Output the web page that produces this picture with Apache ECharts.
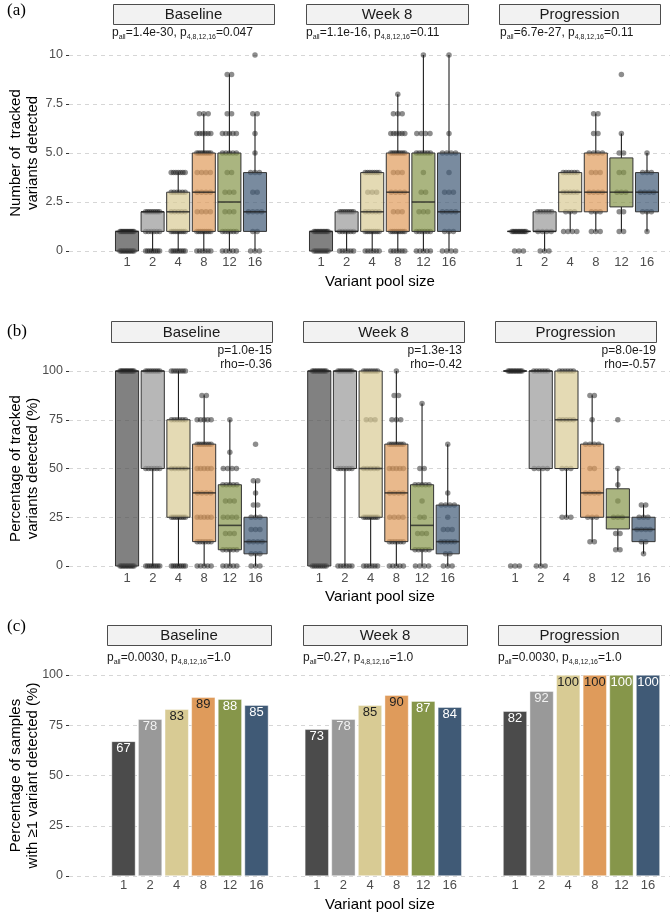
<!DOCTYPE html>
<html><head><meta charset="utf-8">
<script src="https://cdn.jsdelivr.net/npm/echarts/dist/echarts.min.js"></script>
<style>html,body{margin:0;padding:0;background:#fff}#c{width:670px;height:915px}</style>
</head><body><div id="c"></div>
<script>
// ---------------- DATA ----------------
const poolSizes = ['1', '2', '4', '8', '12', '16'];
const facetNames = ['Baseline', 'Week 8', 'Progression'];
const countTickLabels = ['0', '2.5', '5.0', '7.5', '10'];
const pctTickLabels = ['0', '25', '50', '75', '100'];

// (a) Number of tracked variants detected: box stats [min, q1, median, q3, max]
const countBoxBaseline    = [[0,0,1,1,1],[0,1,2,2,2],[0,1,2,3,4],[0,1,3,5,7],[0,1,2.5,5,9],[0,1,2,4,7]];
const countBoxWeek8       = [[0,0,1,1,1],[0,1,1,2,2],[0,1,2,4,4],[0,1,3,5,8],[0,1,2.5,5,10],[0,1,2,5,10]];
const countBoxProgression = [[1,1,1,1,1],[0,1,1,2,2],[1,2,3,4,4],[1,2,3,5,7],[1,2.25,3,4.75,6],[1,2,3,4,5]];
// (a) observed points per pool size: [value, number of samples]
const countPtsBaseline = [
  [[0,10],[1,12]], [[0,8],[1,6],[2,8]], [[0,8],[1,8],[2,5],[3,6],[4,7]],
  [[0,6],[1,8],[2,4],[3,4],[4,4],[5,8],[6,6],[7,3]],
  [[0,5],[1,6],[2,3],[3,3],[4,2],[5,5],[6,5],[7,2],[9,2]],
  [[0,3],[1,2],[2,4],[3,2],[4,3],[5,1],[6,1],[7,2],[10,1]]];
const countPtsWeek8 = [
  [[0,8],[1,10]], [[0,6],[1,6],[2,8]], [[0,6],[1,8],[2,5],[3,3],[4,7]],
  [[0,6],[1,8],[2,3],[3,4],[4,3],[5,8],[6,6],[7,3],[8,1]],
  [[0,5],[1,6],[2,3],[3,2],[4,1],[5,6],[6,4],[10,1]],
  [[0,4],[1,3],[2,4],[3,3],[4,1],[5,4],[6,1],[10,1]]];
const countPtsProgression = [
  [[0,3],[1,10]], [[0,3],[1,4],[2,6]], [[1,4],[2,3],[3,5],[4,6]],
  [[1,3],[2,3],[3,4],[4,3],[5,4],[6,2],[7,2]],
  [[1,2],[2,2],[3,3],[4,2],[5,2],[6,1],[9,1]],
  [[1,1],[2,3],[3,4],[4,3],[5,1]]];

// (b) Percentage of tracked variants detected: box stats
const pctBoxBaseline    = [[0,0,100,100,100],[0,50,100,100,100],[0,25,50,75,100],[0,12.5,37.5,62.5,87.5],[0,8.33,20.83,41.67,75],[0,6.25,12.5,25,43.75]];
const pctBoxWeek8       = [[0,0,100,100,100],[0,50,100,100,100],[0,25,50,100,100],[0,12.5,37.5,62.5,100],[0,8.33,20.83,41.67,83.33],[0,6.25,12.5,31.25,62.5]];
const pctBoxProgression = [[100,100,100,100,100],[0,50,100,100,100],[25,50,75,100,100],[12.5,25,37.5,62.5,87.5],[8.33,19,25,39.6,50],[6.25,12.5,18.75,25,31.25]];
const pctPtsBaseline = [
  [[0,10],[100,12]], [[0,8],[50,6],[100,8]], [[0,8],[25,8],[50,5],[75,6],[100,7]],
  [[0,5],[12.5,6],[25,5],[37.5,4],[50,5],[62.5,7],[75,5],[87.5,2]],
  [[0,5],[8.33,5],[16.67,3],[25,4],[33.33,3],[41.67,5],[50,4],[58.33,1],[75,1]],
  [[0,3],[6.25,3],[12.5,4],[18.75,3],[25,3],[31.25,2],[37.5,1],[43.75,2],[62.5,1]]];
const pctPtsWeek8 = [
  [[0,8],[100,10]], [[0,6],[50,6],[100,8]], [[0,6],[25,8],[50,5],[75,3],[100,7]],
  [[0,5],[12.5,6],[25,4],[37.5,4],[50,5],[62.5,7],[75,3],[87.5,2],[100,1]],
  [[0,4],[8.33,5],[16.67,3],[25,2],[33.33,1],[41.67,5],[50,2],[83.33,1]],
  [[0,3],[6.25,2],[12.5,5],[18.75,3],[25,1],[31.25,4],[37.5,1],[62.5,1]]];
const pctPtsProgression = [
  [[0,3],[100,10]], [[0,3],[50,4],[100,6]], [[25,3],[50,3],[75,5],[100,6]],
  [[12.5,2],[25,3],[37.5,4],[50,2],[62.5,4],[75,1],[87.5,2]],
  [[8.33,2],[16.67,2],[25,3],[33.33,1],[41.67,1],[50,1],[75,1]],
  [[6.25,1],[12.5,2],[18.75,4],[25,3],[31.25,2]]];

// (c) Percentage of samples with >=1 variant detected
const detectedBaseline    = [67, 78, 83, 89, 88, 85];
const detectedWeek8       = [73, 78, 85, 90, 87, 84];
const detectedProgression = [82, 92, 100, 100, 100, 100];

// statistics text
const pTextA = [['1.4e-30', '0.047'], ['1.1e-16', '0.11'], ['6.7e-27', '0.11']];
const pTextB = [['1.0e-15', '-0.36'], ['1.3e-13', '-0.42'], ['8.0e-19', '-0.57']];
const pTextC = [['0.0030', '1.0'], ['0.27', '1.0'], ['0.0030', '1.0']];

// ---------------- STYLE / LAYOUT ----------------
const FONT = '"Liberation Sans", Arial, Helvetica, sans-serif';
const SERIF = '"Liberation Serif", "Times New Roman", serif';
const poolColors = ['#4b4b4b', '#999999', '#d8cb94', '#df9b5b', '#86964a', '#405a76'];
const barLabelColors = ['#ffffff', '#f2f2f2', '#222222', '#222222', '#ffffff', '#ffffff'];
function rgba(hex, a) {
  const n = parseInt(hex.slice(1), 16);
  return 'rgba(' + (n >> 16) + ',' + ((n >> 8) & 255) + ',' + (n & 255) + ',' + a + ')';
}

const rows = [
  { top: 55, bottom: 251, max: 10, interval: 2.5, ticks: countTickLabels,
    lefts: [114.2, 308.2, 506.2], width: 153.6, labelMargin: 5,
    boxes: [countBoxBaseline, countBoxWeek8, countBoxProgression],
    pts: [countPtsBaseline, countPtsWeek8, countPtsProgression] },
  { top: 371, bottom: 566, max: 100, interval: 25, ticks: pctTickLabels,
    lefts: [114.2, 306.4, 502.2], width: 154.2, labelMargin: 6,
    boxes: [pctBoxBaseline, pctBoxWeek8, pctBoxProgression],
    pts: [pctPtsBaseline, pctPtsWeek8, pctPtsProgression] },
  { top: 675, bottom: 876, max: 100, interval: 25, ticks: pctTickLabels,
    lefts: [110.2, 303.5, 501.7], width: 159.6, labelMargin: 3,
    bars: [detectedBaseline, detectedWeek8, detectedProgression] }
];

function spreadOffsets(n) {
  if (n <= 1) return [0];
  const w = Math.min(7, (n - 1) * 2.2);
  const out = [];
  for (let i = 0; i < n; i++) out.push(-w + 2 * w * i / (n - 1));
  return out;
}

function renderBox(params, api) {
  const ci = api.value(0);
  const pMed = api.coord([ci, api.value(3)]);
  const x = pMed[0];
  const bw = api.size([1, 0])[0] * 0.9;
  const yMin = api.coord([ci, api.value(1)])[1];
  const yQ1 = api.coord([ci, api.value(2)])[1];
  const yQ3 = api.coord([ci, api.value(4)])[1];
  const yMax = api.coord([ci, api.value(5)])[1];
  const fill = rgba(poolColors[ci], 0.7);
  return {
    type: 'group',
    children: [
      { type: 'line', shape: { x1: x, y1: yMin, x2: x, y2: yQ1 }, style: { stroke: '#1f1f1f', lineWidth: 1.1 } },
      { type: 'line', shape: { x1: x, y1: yQ3, x2: x, y2: yMax }, style: { stroke: '#1f1f1f', lineWidth: 1.1 } },
      { type: 'rect', shape: { x: x - bw / 2, y: yQ3, width: bw, height: yQ1 - yQ3 },
        style: { fill: fill, stroke: '#333333', lineWidth: 1 } },
      { type: 'line', shape: { x1: x - bw / 2, y1: pMed[1], x2: x + bw / 2, y2: pMed[1] },
        style: { stroke: 'rgba(30,30,30,0.75)', lineWidth: 1.6 } }
    ]
  };
}

const option = { animation: false, grid: [], xAxis: [], yAxis: [], series: [], graphic: [] };

rows.forEach((row, r) => {
  const h = row.bottom - row.top;
  const bg = option.grid.length;
  option.grid.push({ left: 69, right: 0, top: row.top, height: h, containLabel: false, outerBoundsMode: 'none' });
  option.xAxis.push({ type: 'value', gridIndex: bg, show: false, min: 0, max: 1 });
  option.yAxis.push({
    type: 'value', gridIndex: bg, min: 0, max: row.max, interval: row.interval,
    axisLine: { show: false },
    axisTick: { show: true, length: 3, lineStyle: { color: '#333', width: 1 } },
    axisLabel: { color: '#4d4d4d', fontSize: 12.5, margin: 6, fontFamily: FONT,
      formatter: v => row.ticks[Math.round(v / row.interval)] },
    splitLine: { show: true, lineStyle: { color: '#d6d6d6', type: [4, 4], width: 1 } }
  });
  row.lefts.forEach((left, f) => {
    const gi = option.grid.length;
    option.grid.push({ left: left, width: row.width, top: row.top, height: h, containLabel: false, outerBoundsMode: 'none' });
    option.xAxis.push({
      type: 'category', gridIndex: gi, data: poolSizes, boundaryGap: true,
      axisLine: { show: false }, axisTick: { show: false }, splitLine: { show: false },
      axisLabel: { interval: 0, color: '#4d4d4d', fontSize: 13, margin: row.labelMargin, fontFamily: FONT }
    });
    option.yAxis.push({ type: 'value', gridIndex: gi, min: 0, max: row.max, show: false });
    if (row.bars) {
      option.series.push({
        type: 'bar', xAxisIndex: gi, yAxisIndex: gi, barCategoryGap: '10%',
        data: row.bars[f].map((v, i) => ({
          value: v, itemStyle: { color: poolColors[i] }, label: { color: barLabelColors[i] }
        })),
        itemStyle: { borderColor: 'rgba(255,255,255,0.7)', borderWidth: 0.6 },
        label: { show: true, position: 'insideTop', distance: 1, fontSize: 13, fontFamily: FONT }
      });
    } else {
      const pts = [];
      row.pts[f].forEach((list, ci) => {
        list.forEach(([v, n]) => {
          spreadOffsets(n).forEach(dx => pts.push({ value: [ci, v], symbolOffset: [dx, 0] }));
        });
      });
      option.series.push({
        type: 'scatter', xAxisIndex: gi, yAxisIndex: gi, clip: false, z: 2,
        symbol: 'circle', symbolSize: 5.5, data: pts,
        itemStyle: { color: 'rgba(25,25,25,0.62)' }
      });
      option.series.push({
        type: 'custom', xAxisIndex: gi, yAxisIndex: gi, z: 3, clip: false,
        renderItem: renderBox, encode: { x: 0, y: [1, 2, 3, 4, 5] },
        data: row.boxes[f].map((b, ci) => [ci].concat(b))
      });
    }
  });
});

// facet strips
const strips = [
  { y0: 4, y1: 24, xs: [[113, 274], [306, 468], [499, 660]] },
  { y0: 321, y1: 342, xs: [[111, 272], [303, 464], [495, 656]] },
  { y0: 625, y1: 645, xs: [[107, 271], [303, 467], [498, 661]] }
];
strips.forEach(s => {
  s.xs.forEach(([x0, x1], f) => {
    option.graphic.push({ type: 'rect', shape: { x: x0 + 0.5, y: s.y0 + 0.5, width: x1 - x0, height: s.y1 - s.y0 },
      style: { fill: '#f2f2f2', stroke: '#4d4d4d', lineWidth: 1 }, z: 10 });
    option.graphic.push({ type: 'text', x: (x0 + x1) / 2, y: (s.y0 + s.y1) / 2 + 1, z: 11,
      style: { text: facetNames[f], fontSize: 15, fontFamily: FONT, fill: '#1a1a1a', align: 'center', verticalAlign: 'middle' } });
  });
});

const richP = {
  n: { fontSize: 12, fontFamily: FONT, fill: '#1a1a1a', lineHeight: 16 },
  s: { fontSize: 7, fontFamily: FONT, fill: '#1a1a1a', verticalAlign: 'bottom', lineHeight: 10 }
};
const pAX = [112, 306, 500];
pTextA.forEach(([a, b], f) => {
  option.graphic.push({ type: 'text', x: pAX[f], y: 33, z: 11,
    style: { text: '{n|p}{s|all}{n|=' + a + ', p}{s|4,8,12,16}{n|=' + b + '}', rich: richP, verticalAlign: 'middle', align: 'left' } });
});
const pCX = [107, 303, 498];
pTextC.forEach(([a, b], f) => {
  option.graphic.push({ type: 'text', x: pCX[f], y: 658, z: 11,
    style: { text: '{n|p}{s|all}{n|=' + a + ', p}{s|4,8,12,16}{n|=' + b + '}', rich: richP, verticalAlign: 'middle', align: 'left' } });
});
const pBX = [272, 462, 656];
pTextB.forEach(([p, rho], f) => {
  option.graphic.push({ type: 'text', x: pBX[f], y: 357.5, z: 11,
    style: { text: 'p=' + p + '\nrho=' + rho, fontSize: 12, lineHeight: 13.5, fontFamily: FONT, fill: '#1a1a1a', align: 'right', verticalAlign: 'middle' } });
});

// axis titles
const yTitles = [
  ['Number of  tracked\nvariants detected', 153],
  ['Percentage of tracked\nvariants detected (%)', 468.5],
  ['Percentage of samples\nwith \u22651 variant detected (%)', 775.5]
];
yTitles.forEach(([t, y]) => {
  option.graphic.push({ type: 'text', x: 24.5, y: y, rotation: Math.PI / 2, z: 11,
    style: { text: t, fontSize: 15, lineHeight: 17, fontFamily: FONT, fill: '#000', align: 'center', verticalAlign: 'middle' } });
});
[282, 597, 905].forEach(y => {
  option.graphic.push({ type: 'text', x: 380, y: y, z: 11,
    style: { text: 'Variant pool size', fontSize: 15, fontFamily: FONT, fill: '#000', align: 'center', verticalAlign: 'middle' } });
});
[['(a)', 11], ['(b)', 332], ['(c)', 627]].forEach(([t, y]) => {
  option.graphic.push({ type: 'text', x: 7, y: y, z: 11,
    style: { text: t, fontSize: 17, fontFamily: SERIF, fill: '#000', align: 'left', verticalAlign: 'middle' } });
});

const chart = echarts.init(document.getElementById('c'), null, { renderer: 'canvas' });
chart.setOption(option);
</script>
</body></html>
